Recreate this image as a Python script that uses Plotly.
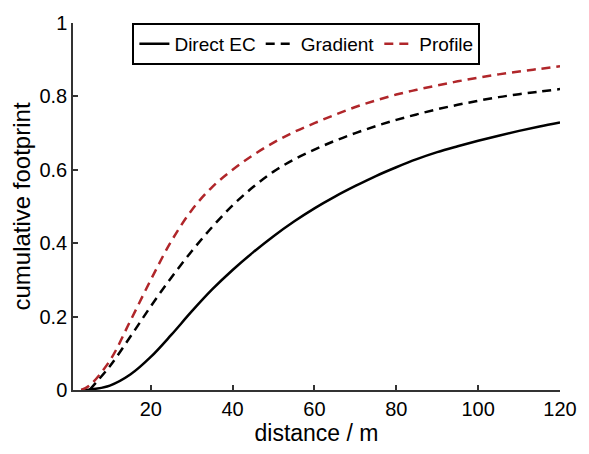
import plotly.graph_objects as go

# Data
direct_x = [3, 5, 10, 15, 20, 25, 30, 35, 40, 45, 50, 55, 60, 65, 70, 75, 80, 85, 90, 95, 100, 105, 110, 115, 120]
direct_y = [0, 0.001, 0.012, 0.042, 0.09, 0.15, 0.214, 0.274, 0.327, 0.375, 0.419, 0.459, 0.495, 0.527,
            0.556, 0.583, 0.607, 0.629, 0.648, 0.664, 0.679, 0.693, 0.706, 0.718, 0.729]

grad_x = [5, 10, 15, 20, 25, 30, 35, 40, 45, 50, 55, 60, 65, 70, 75, 80, 85, 90, 95, 100, 105, 110, 115, 120]
grad_y = [0, 0.065, 0.145, 0.228, 0.306, 0.378, 0.444, 0.503, 0.553, 0.595, 0.628, 0.655, 0.679, 0.700,
          0.719, 0.736, 0.751, 0.765, 0.777, 0.788, 0.798, 0.806, 0.813, 0.82]

prof_x = [3, 5, 10, 15, 20, 25, 30, 35, 40, 45, 50, 55, 60, 65, 70, 75, 80, 85, 90, 95, 100, 105, 110, 115, 120]
prof_y = [0, 0.012, 0.08, 0.188, 0.30, 0.405, 0.49, 0.553, 0.60, 0.64, 0.674, 0.703, 0.727, 0.75, 0.771,
          0.789, 0.805, 0.818, 0.83, 0.841, 0.851, 0.86, 0.868, 0.875, 0.882]

x_ticks = [20, 40, 60, 80, 100, 120]
y_ticks = [0, 0.2, 0.4, 0.6, 0.8, 1]
y_tick_text = ["0", "0.2", "0.4", "0.6", "0.8", "1"]

font = "Liberation Sans, Arial, sans-serif"

fig = go.Figure()
fig.add_trace(go.Scatter(x=direct_x, y=direct_y, mode="lines", name="Direct EC",
                         line=dict(color="black", width=2.5, shape="spline")))
fig.add_trace(go.Scatter(x=grad_x, y=grad_y, mode="lines", name="Gradient",
                         line=dict(color="black", width=2.5, dash="9px,6px", shape="spline")))
fig.add_trace(go.Scatter(x=prof_x, y=prof_y, mode="lines", name="Profile",
                         line=dict(color="#b0262a", width=2.5, dash="9px,6px", shape="spline")))

fig.update_layout(
    width=589, height=454,
    margin=dict(l=73, r=26, t=19, b=62),
    paper_bgcolor="white", plot_bgcolor="white",
    font=dict(family=font, size=19, color="black"),
    showlegend=True,
    legend=dict(orientation="h", x=0.122, y=1.0, xanchor="left", yanchor="top",
                bgcolor="white", bordercolor="black", borderwidth=2,
                font=dict(size=19), tracegroupgap=0),
    xaxis=dict(range=[1, 120], tickvals=x_ticks, ticks="inside", ticklen=5,
               tickwidth=1.5, tickcolor="#333", showline=True, linecolor="#333",
               linewidth=1.5, showgrid=False, zeroline=False,
               tickfont=dict(size=20),
               title=dict(text="distance / m", font=dict(size=23), standoff=6)),
    yaxis=dict(range=[0, 1], tickvals=y_ticks, ticktext=y_tick_text, ticks="inside",
               ticklen=5, tickwidth=1.5, tickcolor="#333", showline=True,
               linecolor="#333", linewidth=1.5, showgrid=False, zeroline=False,
               tickfont=dict(size=20),
               title=dict(text="cumulative footprint", font=dict(size=24), standoff=2)),
)

fig.write_html("out.html")
